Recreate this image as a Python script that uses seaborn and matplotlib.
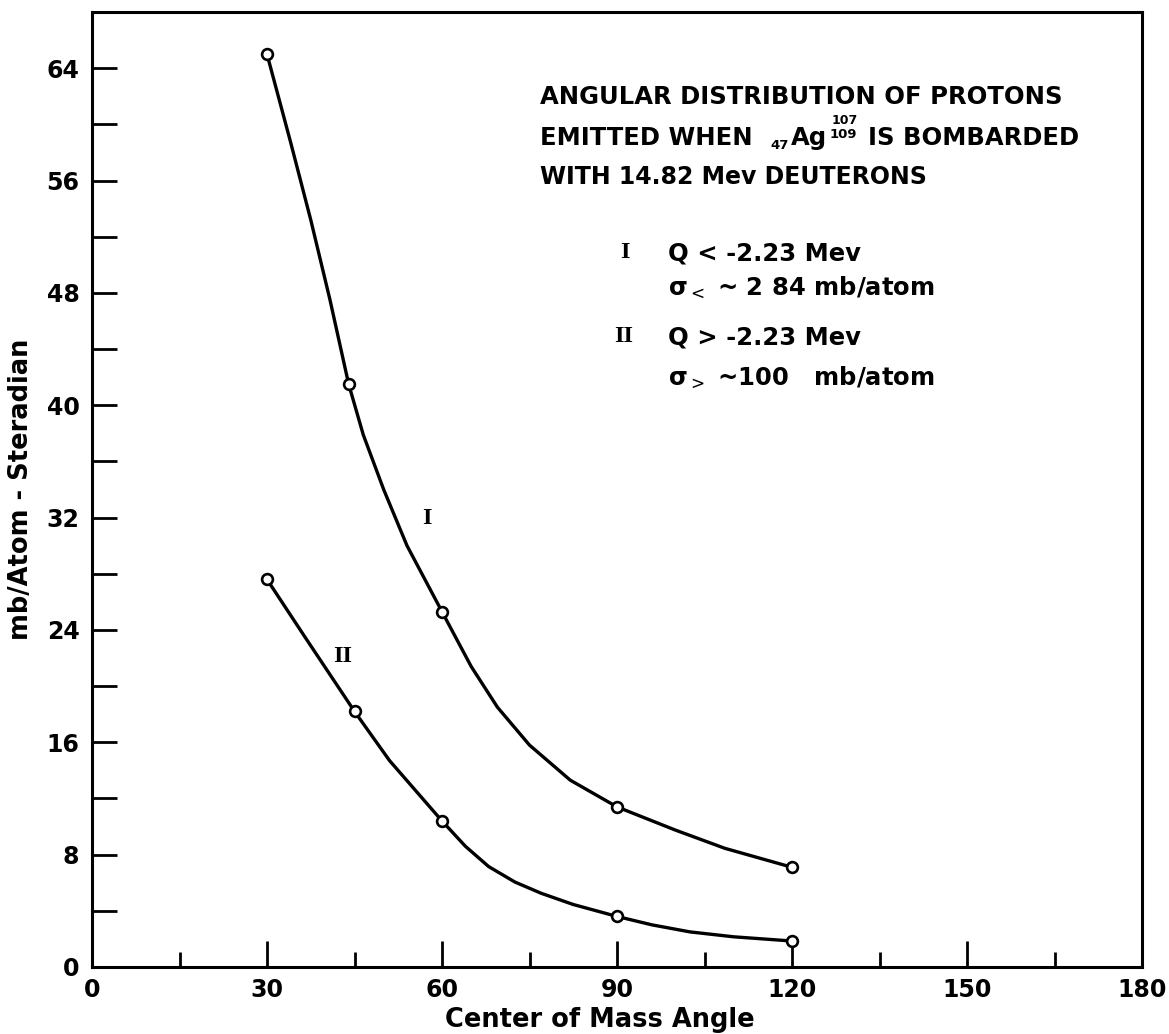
import matplotlib
matplotlib.use("Agg")
import matplotlib.pyplot as plt
import seaborn as sns
import pandas as pd

# measured points (open circles)
angle_I = [30, 44, 60, 90, 120]
sigma_I = [65.0, 41.5, 25.3, 11.4, 7.1]
angle_II = [30, 45, 60, 90, 120]
sigma_II = [27.6, 18.2, 10.4, 3.6, 1.85]

# hand drawn curves
trace_I_x = [30, 34, 37.5, 40.8, 44, 46.5, 50, 54, 60, 65, 69.5, 75, 82, 90, 100, 108.5, 120]
trace_I_y = [65.0, 58.8, 53.2, 47.5, 41.5, 37.9, 34.0, 30.0, 25.3, 21.4, 18.5, 15.8, 13.3, 11.4, 9.75, 8.45, 7.1]
trace_II_x = [30, 36.5, 45, 51, 60, 64, 68, 72.5, 77, 82.5, 90, 96, 102.5, 110, 120]
trace_II_y = [27.6, 23.5, 18.2, 14.7, 10.4, 8.6, 7.15, 6.05, 5.25, 4.45, 3.6, 3.0, 2.5, 2.15, 1.85]

x_ticks = [0, 30, 60, 90, 120, 150, 180]
x_minor = [15, 45, 75, 105, 135, 165]
y_ticks = [0, 8, 16, 24, 32, 40, 48, 56, 64]
y_minor = [4, 12, 20, 28, 36, 44, 52, 60]

sns.set_style("ticks")
plt.rcParams['font.family'] = ['DejaVu Sans']
plt.rcParams['text.color'] = 'black'
plt.rcParams['axes.labelcolor'] = 'black'
plt.rcParams['xtick.color'] = 'black'
plt.rcParams['ytick.color'] = 'black'

W, H = 1169, 1034
fig = plt.figure(figsize=(W / 100, H / 100), dpi=100)
ax = fig.add_axes([92 / W, 1 - 967 / H, (1142 - 92) / W, (967 - 12) / H])

curves = pd.DataFrame({
    "angle": trace_I_x + trace_II_x,
    "value": trace_I_y + trace_II_y,
    "curve": ["I"] * len(trace_I_x) + ["II"] * len(trace_II_x),
})
points = pd.DataFrame({
    "angle": angle_I + angle_II,
    "value": sigma_I + sigma_II,
    "curve": ["I"] * len(angle_I) + ["II"] * len(angle_II),
})

sns.lineplot(data=curves, x="angle", y="value", units="curve", estimator=None,
             color="black", linewidth=2.4, ax=ax)
sns.scatterplot(data=points, x="angle", y="value", marker="o", s=60,
                facecolor="white", edgecolor="black", linewidth=1.9, zorder=5, ax=ax)

ax.set_xlim(0, 180)
ax.set_ylim(0, 68)
ax.set_xticks(x_ticks)
ax.set_xticks(x_minor, minor=True)
ax.set_yticks(y_ticks)
ax.set_yticks(y_minor, minor=True)
ax.tick_params(axis="both", which="both", direction="in", width=2.0, labelsize=17)
ax.tick_params(axis="x", which="major", length=19, pad=8)
ax.tick_params(axis="x", which="minor", length=11)
ax.tick_params(axis="y", which="both", length=18, pad=9)
for lab in ax.get_xticklabels() + ax.get_yticklabels():
    lab.set_fontweight("bold")
for sp in ax.spines.values():
    sp.set_visible(True)
    sp.set_linewidth(2.2)
    sp.set_color("black")

ax.set_xlabel("Center of Mass Angle", fontsize=18.5, fontweight="bold")
ax.set_ylabel("mb/Atom - Steradian", fontsize=18.5, fontweight="bold")
ax.xaxis.set_label_coords((600 - 92) / 1050, -0.042)
ax.yaxis.set_label_coords(-0.055, 0.5)


def px(x, y):
    return x / W, 1 - y / H


ts = 17.5
bold = dict(fontsize=ts, va="center", fontweight="bold")
small = dict(fontsize=9.5, va="center", fontweight="bold")
fig.text(*px(540, 97), "ANGULAR DISTRIBUTION OF PROTONS", **bold)
fig.text(*px(540, 138), "EMITTED WHEN", **bold)
fig.text(*px(770, 146), "47", **small)
fig.text(*px(791, 138), "Ag", **bold)
fig.text(*px(830, 135), "109", **small)
fig.text(*px(832, 120), "107", fontsize=9, va="center", fontweight="bold")
fig.text(*px(868, 138), "IS BOMBARDED", **bold)
fig.text(*px(540, 177), "WITH 14.82 Mev DEUTERONS", fontsize=17, va="center", fontweight="bold")

serif = ["Liberation Serif", "DejaVu Serif"]
fig.text(*px(620, 253), "I", fontsize=ts, va="center", family=serif, fontweight="bold")
fig.text(*px(668, 253), "Q < -2.23 Mev", **bold)
fig.text(*px(668, 287), "σ$_{<}$ ~ 2 84 mb/atom", **bold)
fig.text(*px(614, 337), "II", fontsize=ts, va="center", family=serif, fontweight="bold")
fig.text(*px(668, 337), "Q > -2.23 Mev", **bold)
fig.text(*px(668, 377), "σ$_{>}$ ~100   mb/atom", **bold)

ax.text(57.4, 31.9, "I", fontsize=ts, ha="center", va="center", family=serif, fontweight="bold")
ax.text(43.0, 22.1, "II", fontsize=ts, ha="center", va="center", family=serif, fontweight="bold")

fig.savefig("out.png", dpi=100)
